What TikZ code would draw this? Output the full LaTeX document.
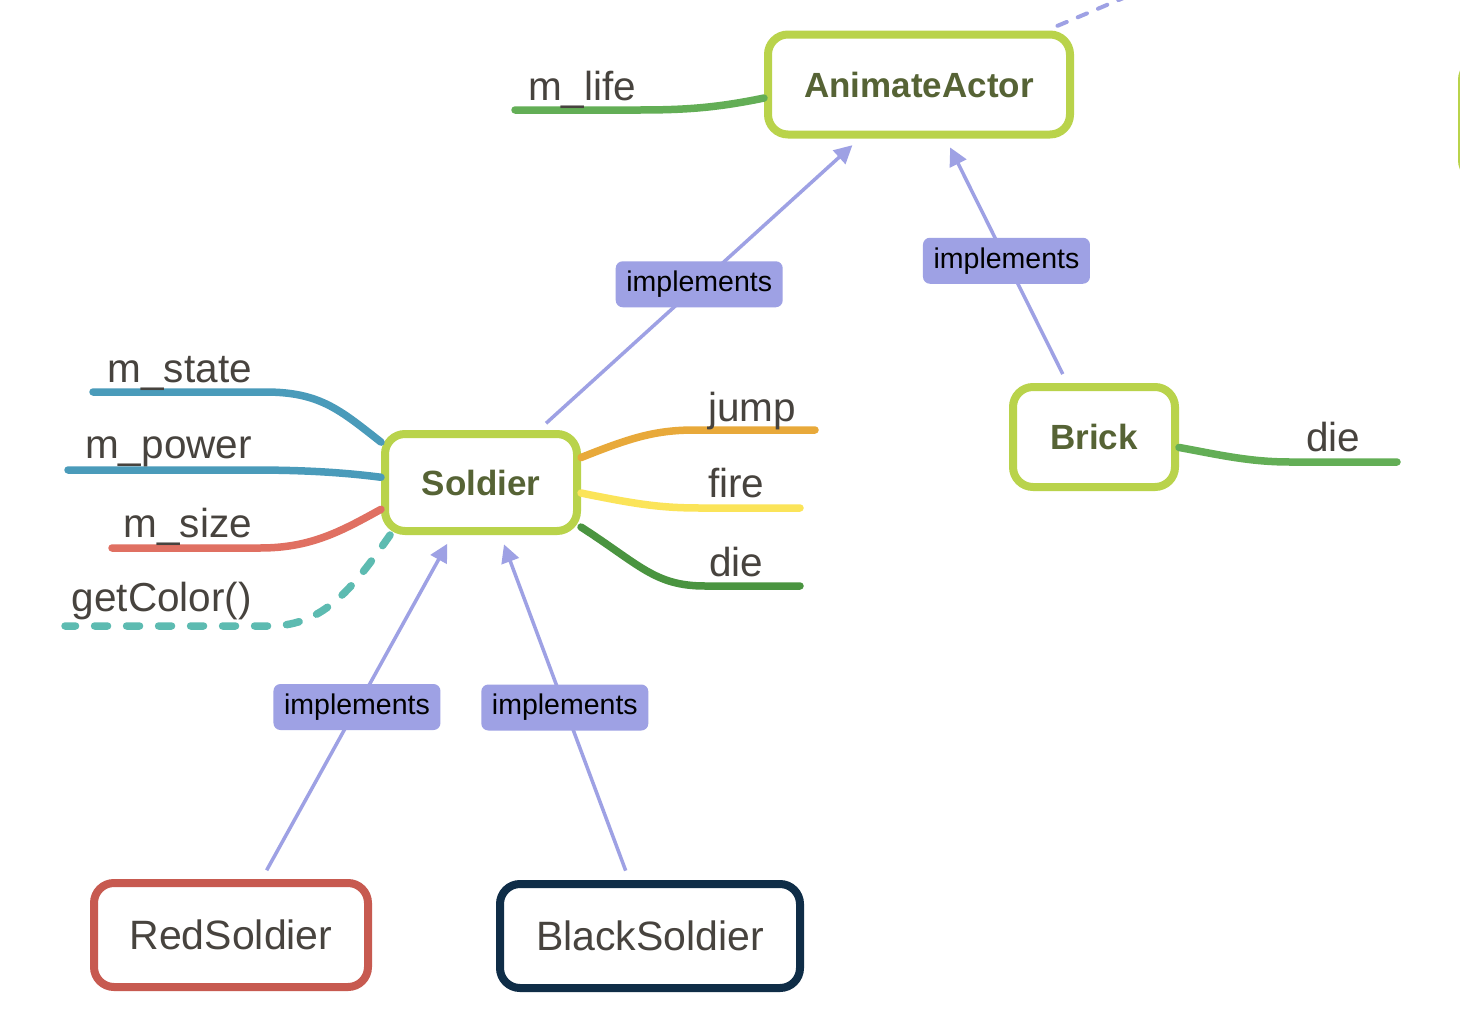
\documentclass[tikz,border=0pt]{standalone}
\usepackage{fontspec}
\setmainfont{Liberation Sans}
\usetikzlibrary{arrows.meta,calc}
\definecolor{boxgreen}{HTML}{B9D34B}
\definecolor{maintext}{HTML}{566335}
\definecolor{leaftext}{HTML}{47433E}
\definecolor{lav}{HTML}{9EA1E4}
\definecolor{bblue}{HTML}{4A9BBA}
\definecolor{bred}{HTML}{E07062}
\definecolor{bteal}{HTML}{5DBBB1}
\definecolor{borange}{HTML}{E8A93A}
\definecolor{byellow}{HTML}{FBE459}
\definecolor{bdkgreen}{HTML}{4A9440}
\definecolor{bltgreen}{HTML}{63AE56}
\definecolor{redborder}{HTML}{C75A50}
\definecolor{navyborder}{HTML}{0F2D47}
\begin{document}
\begin{tikzpicture}[x=1pt,y=-1pt,
  mainbox/.style={draw=boxgreen, line width=8pt, rounded corners=20pt, fill=white,
    font=\fontsize{35}{37}\selectfont\bfseries, text=maintext, inner sep=0pt},
  subbox/.style={line width=8pt, rounded corners=20pt, fill=white,
    font=\fontsize{41}{43}\selectfont, text=leaftext, inner sep=0pt},
  implbox/.style={fill=lav, rounded corners=7pt, minimum width=167pt, minimum height=46pt,
    inner sep=0pt, font=\fontsize{28.5}{30}\selectfont, text=black},
  impl/.style={draw=lav, line width=3.5pt, -{Triangle[length=18pt,width=18pt]},
    shorten <=10pt, shorten >=10pt},
  branch/.style={line width=7.5pt, line cap=round},
  leaf/.style={font=\fontsize{40.5}{42}\selectfont, text=leaftext, inner sep=0pt},
]
\clip (0,0) rectangle (1460,1036);
\fill[white] (0,0) rectangle (1460,1036);

% main nodes
\node[mainbox, minimum width=302pt, minimum height=100pt] (animate) at (919,84.5) {AnimateActor};
\node[mainbox, minimum width=192pt, minimum height=97pt] (soldier) at (481,482.5) {Soldier};
\node[mainbox, minimum width=162pt, minimum height=100pt] (brick) at (1094,437) {Brick};
\node[subbox, draw=redborder, minimum width=274pt, minimum height=104pt] (red) at (231,935) {RedSoldier};
\node[subbox, draw=navyborder, minimum width=300pt, minimum height=104pt] (black) at (650,936) {BlackSoldier};

% partial node at right edge
\draw[boxgreen, line width=8pt, rounded corners=20pt] (1462,60) rectangle (1700,180);

% dashed link off the top
\coordinate (offtop) at (1300,-76.6);
\draw[lav, line width=4pt, dash pattern=on 10pt off 12pt, line cap=round, shorten <=12pt] (animate) -- (offtop);

% implements arrows
\draw[impl] (soldier) -- node[implbox, midway] (l1) {implements} (animate);
\draw[impl] (brick) -- node[implbox, midway] (l2) {implements} (animate);
\draw[impl] (red) -- node[implbox, midway] (l3) {implements} (soldier);
\draw[impl] (black) -- node[implbox, midway] (l4) {implements} (soldier);

% branch end coordinates
\coordinate (elife) at (515,110);
\coordinate (estate) at (93,392);
\coordinate (epower) at (68,470);
\coordinate (esize) at (112,548);
\coordinate (ecolor) at (65,626);
\coordinate (ejump) at (815,430);
\coordinate (efire) at (800,508);
\coordinate (edie) at (800,586);
\coordinate (ebdie) at (1397,462);

% branches
\draw[branch, bltgreen] (animate.185) .. controls (720,107) and (690,110) .. (640,110) -- (elife);
\draw[branch, bblue] (soldier.158) .. controls (340,410) and (320,392) .. (265,392) -- (estate);
\draw[branch, bblue] (soldier.177) .. controls (340,472) and (300,470) .. (250,470) -- (epower);
\draw[branch, bred] (soldier.195) .. controls (340,532) and (310,548) .. (260,548) -- (esize);
\draw[branch, bteal, dash pattern=on 13pt off 19pt] (soldier.210) .. controls (355,585) and (325,626) .. (270,626) -- (ecolor);
\draw[branch, borange] (soldier.14) .. controls (630,438) and (655,430) .. (695,430) -- (ejump);
\draw[branch, byellow] (soldier.354) .. controls (635,504) and (660,508) .. (700,508) -- (efire);
\draw[branch, bdkgreen] (soldier.336) .. controls (640,565) and (655,586) .. (705,586) -- (edie);
\draw[branch, bltgreen] (brick.353) .. controls (1220,455) and (1250,462) .. (1290,462) -- (ebdie);

% leaf labels
\node[leaf, anchor=base west] (tlife) at (528,100) {m\_life};
\node[leaf, anchor=base east] (tstate) at (252,382) {m\_state};
\node[leaf, anchor=base east] (tpower) at (252,458) {m\_power};
\node[leaf, anchor=base east] (tsize) at (252,537) {m\_size};
\node[leaf, anchor=base east] (tcolor) at (252,611) {getColor()};
\node[leaf, anchor=base west] (tjump) at (708,421) {jump};
\node[leaf, anchor=base west] (tfire) at (708,497) {fire};
\node[leaf, anchor=base west] (tdie) at (709,576) {die};
\node[leaf, anchor=base west] (tbdie) at (1306,451) {die};
\end{tikzpicture}
\end{document}
